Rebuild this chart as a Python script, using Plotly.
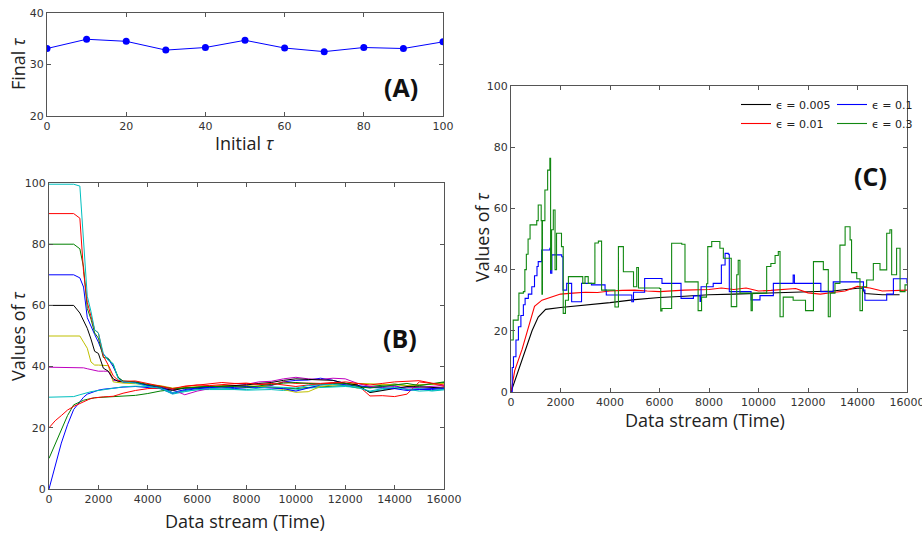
import plotly.graph_objects as go

# ---------------- Panel A data ----------------
initial_tau = [0, 10, 20, 30, 40, 50, 60, 70, 80, 90, 100]
final_tau = [33.1, 34.9, 34.5, 32.8, 33.3, 34.7, 33.2, 32.5, 33.3, 33.1, 34.4]

# ---------------- Panel B data ----------------
tB = [0, 250, 500, 750, 1000, 1250, 1400, 1550, 1700, 1850, 2000, 2200, 2400, 2600, 2800,
      3000, 3500, 4000, 4500, 5000, 5500, 6000, 6500, 7000, 7500, 8000, 8500, 9000, 9500,
      10000, 10500, 11000, 11500, 12000, 12500, 13000, 13500, 14000, 14500, 15000, 15500, 16000]
b_tau0 = [0, 8, 15, 21, 26, 28.5, 30, 31, 31.5, 32, 32.3, 32.6, 32.8, 33, 33.2,
          33.3, 33.5, 33.2, 32.8, 31.2, 32.2, 32.8, 33, 33.2, 32.8, 33, 33.4, 33.8, 35,
          35.5, 35.6, 36.2, 35.5, 34.5, 33.8, 33.2, 33.5, 33.8, 32.5, 32.6, 32.8, 33]
b_tau10 = [10, 14.5, 19, 24, 27.5, 28.6, 29, 29.3, 29.6, 29.8, 29.9, 30, 30.1, 30.2, 30.3,
           30.4, 30.6, 31.2, 32, 32.5, 33, 33, 33.5, 33.5, 33.8, 33.5, 33.5, 33.2, 33,
           32.8, 33.2, 33.5, 33.6, 33.8, 33, 33.5, 34, 34.3, 33.8, 34, 34.2, 34.8]
b_tau20 = [20, 22.3, 24, 25.8, 27, 28, 28.6, 29.1, 29.6, 29.8, 30, 30.1, 30.2, 30.3, 30.8,
           31.3, 32.2, 32.8, 33, 32.5, 33.5, 34, 34.3, 34.8, 34.5, 34.5, 34.2, 34, 35,
           34.5, 34.6, 34.5, 34.8, 34.4, 34, 30.4, 30.5, 30.2, 31, 35, 34.5, 33.5]
b_tau30 = [30, 30, 30, 30, 30.2, 30.8, 31.2, 31.5, 31.8, 32, 32.2, 32.5, 32.8, 33, 33.2,
           33.4, 33.6, 33.5, 33, 31, 31.8, 32.5, 32.5, 32.6, 32.5, 32.3, 32.5, 32.5, 32.2,
           32.4, 33, 33.2, 33.4, 33.5, 33.2, 31.8, 32.4, 33, 33.2, 32.8, 32, 32.4]
b_tau40 = [39.8, 39.8, 39.8, 39.8, 39.8, 39.8, 39.6, 39.3, 39, 38.6, 38.5, 38.5, 38.5, 35.5, 35.3,
           35.2, 35, 34, 33.5, 32.5, 30.8, 32, 32.8, 33.3, 33.8, 34.2, 35, 35.2, 36,
           36.5, 36, 35.8, 36.2, 36, 34.5, 33.5, 33.2, 33.5, 33, 33.2, 33.6, 33.8]
b_tau50 = [50, 50, 50, 50, 50, 50, 48, 46, 41.5, 40.5, 40.5, 40.5, 40.3, 35, 34.8,
           34.6, 34.4, 34.2, 33.8, 33, 33.2, 33.4, 33.5, 33.8, 33.6, 33.8, 33.5, 33.2, 32.5,
           31.6, 31.8, 33.5, 34, 34.2, 34.5, 34.4, 34.2, 34, 33.8, 34, 34.2, 34.5]
b_tau60 = [60, 60, 60, 60, 60, 57.5, 55, 52.5, 49, 45, 44.3, 39.5, 38.5, 36, 35.2,
           35, 34.8, 34, 33.2, 32.2, 33, 33.2, 33.5, 33.8, 34, 34, 34.5, 34.8, 35.5,
           36, 35.8, 35.6, 35.5, 34.5, 34, 31.5, 32.2, 33, 33.5, 33.4, 33.2, 33]
b_tau70 = [70, 70, 70, 70, 70, 69, 66, 56, 53, 50.5, 48, 44, 42.5, 40, 36.5,
           35, 34.8, 33.8, 33.5, 31.5, 32.5, 33, 33.2, 33, 33.2, 33.5, 33.2, 33, 32.8,
           32, 33, 34, 34.5, 34, 33.6, 33.2, 33, 32.8, 32.2, 32.5, 32.5, 32.8]
b_tau80 = [80, 80, 80, 80, 80, 78.5, 72.5, 59, 55.5, 51, 49.3, 43, 42.7, 40.6, 36.5,
           35.3, 35, 34.2, 33.4, 32.8, 33, 33.2, 33.6, 33.4, 33.5, 33.2, 33.8, 34.2, 34.6,
           34.8, 34.5, 34.2, 34.5, 34.6, 33.5, 33, 33.5, 34, 34.5, 33.8, 34.5, 35]
b_tau90 = [90, 90, 90, 90, 90, 88.5, 71, 61, 56, 52, 51, 43.5, 40.5, 37, 35.5,
           35.2, 35.3, 34.5, 33.6, 32.8, 33.6, 34, 33.8, 34.2, 34.4, 34.6, 34.2, 34.5, 34,
           33.5, 34, 34.2, 34.6, 35, 34.6, 34, 34.5, 35, 35.2, 35.4, 34.6, 34]
b_tau100 = [99.6, 99.6, 99.6, 99.6, 99.6, 99, 81.5, 63, 58, 52, 51, 44.3, 42, 41, 36,
            35, 34.6, 33.5, 33, 31.5, 32, 32.5, 32.8, 33, 32.6, 32.5, 33, 33.4, 33.2,
            33, 33.8, 34, 34.2, 33.8, 33.2, 32, 32.8, 33.2, 32.6, 32, 32.2, 32.6]
b_series = [b_tau0, b_tau10, b_tau20, b_tau30, b_tau40, b_tau50,
            b_tau60, b_tau70, b_tau80, b_tau90, b_tau100]
b_colors = ['#0000ff', '#008000', '#ff0000', '#00bfbf', '#bf00bf', '#bfbf00',
            '#000000', '#0000ff', '#008000', '#ff0000', '#00bfbf']

# ---------------- Panel C data ----------------
c_t_k = [0, 300, 550, 850, 1100, 1400, 2000, 3000, 4000, 5000, 6000, 7000, 8000, 9000,
         10000, 11000, 12000, 13000, 14000, 14200, 14300, 15000, 15700]
c_v_k = [0, 7, 13.5, 20, 24.5, 27, 27.6, 28.3, 29.2, 30.2, 30.9, 31.3, 31.8, 32,
         32.2, 32.4, 32.6, 33, 33.9, 34, 32.2, 31.8, 31.8]
c_t_r = [0, 150, 450, 700, 950, 1250, 1600, 2000, 2500, 3000, 3500, 4000, 4500, 5000, 5500,
         6000, 7000, 8000, 8500, 9000, 9500, 10000, 10500, 11000, 11500, 12000, 12500, 13000,
         13500, 14000, 14500, 15000, 15500, 16000]
c_v_r = [0, 7, 14, 21, 28, 30, 31, 32, 32.3, 32.6, 32.5, 33, 33.2, 33.3, 33,
         32.8, 33.3, 33.5, 34, 33.5, 34, 33, 33.2, 33.5, 33.8, 32.4, 32, 32.5,
         33, 34.5, 34, 33, 33.2, 33.3]
c_t_b = [0, 50, 100, 200, 300, 400, 500, 570, 700, 840, 950, 1050, 1100, 1240, 1570,
         1600, 1650, 2050, 2100, 2250, 2450, 2850,
         3250, 3800, 3850, 4880, 4950, 5400, 6100, 6830, 6870, 7370, 7640, 7680, 8170, 8500,
         8650, 8780, 8820, 9650, 9700, 10060, 10600, 11400, 11450, 12480, 12520, 13020, 13830,
         14240, 14300, 15180, 15450, 16000]
c_v_b = [0, 8, 11.5, 17, 21.3, 25, 28.5, 30.6, 32, 34.4, 38, 41, 42.6, 46.4, 47,
         38.8, 44.8, 44.2, 33.3, 35.5, 29.5, 35.5,
         35, 33.3, 31.7, 29.5, 32.6, 37.1, 35.5, 35.5, 30.6, 31.4, 29.6, 34.4, 35.5, 41.5,
         45.3, 45, 32.8, 32.8, 30.1, 31.5, 35.5, 38.2, 35.5, 35.5, 32.8, 36, 36,
         33.3, 30, 32, 37, 35.5]
c_t_g = [0, 90, 290, 320, 500, 560, 620, 690, 770, 1040, 1100, 1170, 1220, 1250, 1270, 1370,
         1480, 1570,
         1600, 1640, 1710, 1780, 1840, 2040, 2110, 2200, 2320, 2850, 2900, 2990, 3120, 3390,
         3530, 3660, 4070, 4200, 4340, 4540, 4880, 4950, 5080, 5150, 6000, 6050, 6100, 6490,
         6900, 7030, 7500, 7560, 7700, 7900, 7950, 8110, 8440, 8580, 8850, 8900, 9120, 9180,
         9250, 9650, 9700, 9750, 10060, 10330, 10500, 10670, 10800, 10870, 11000, 11400,
         11900, 12100, 12220, 12480, 12620, 12820, 12900, 13090, 13290, 13500, 13700, 13760,
         13970, 14100, 14200, 14370, 14640, 14910, 15180, 15310, 15380, 15580, 15720, 15920,
         16000]
c_v_g = [17, 23.5, 25, 32.3, 32.8, 40, 45, 50, 54.6, 56, 61.1, 61.1, 56, 32, 56, 66,
         72.5, 76.4,
         40, 53, 59.5, 40, 51.9, 47.5, 25.7, 30, 37.7, 37.7, 35.5, 37.7, 35.5, 48.7,
         49.3, 33.3, 33.3, 27.8, 47.5, 39.3, 39.3, 34.4, 40.7, 34, 33.8, 26.5, 27.3, 48.6,
         48.3, 36, 36, 26.6, 31, 35.4, 47.5, 49.2, 47, 43.7, 43.7, 27.9, 38.3, 43,
         32.3, 32.3, 26.6, 32.3, 32.3, 41, 42, 44.6, 45.9, 24.6, 31, 30,
         26.6, 26.6, 42.6, 42.6, 40, 24.6, 32.3, 35.5, 48, 54, 49.7, 39,
         37, 26.6, 34.4, 36.6, 42, 39.9, 51.9, 53, 38.3, 47, 32.8, 35,
         35]
c_names = ['ϵ = 0.005', 'ϵ = 0.01', 'ϵ = 0.1', 'ϵ = 0.3']

# ---------------- Figure ----------------
W, H = 922, 539
TICKFONT = dict(family='DejaVu Sans', size=11, color='#333333')
TITLEFONT = dict(family='Open Sans', size=18, color='#222222')


def px_x(p):
    return p / W


def px_y(p):
    return 1 - p / H


fig = go.Figure()

fig.add_trace(go.Scatter(x=initial_tau, y=final_tau, mode='lines+markers',
                         line=dict(color='#0000ff', width=1),
                         marker=dict(color='#0000ff', size=7),
                         xaxis='x', yaxis='y', showlegend=False))

for vals, col in zip(b_series, b_colors):
    fig.add_trace(go.Scatter(x=tB, y=vals, mode='lines', line=dict(color=col, width=1),
                             xaxis='x2', yaxis='y2', showlegend=False))

c_data = [(c_t_k, c_v_k, '#000000', 'legend', 'linear'),
          (c_t_r, c_v_r, '#ff0000', 'legend', 'linear'),
          (c_t_b, c_v_b, '#0000ff', 'legend2', 'hv'),
          (c_t_g, c_v_g, '#118811', 'legend2', 'hv')]
for (tt, vv, col, lg, shp), name in zip(c_data, c_names):
    fig.add_trace(go.Scatter(x=tt, y=vv, mode='lines', name=name,
                             line=dict(color=col, width=1.1, shape=shp),
                             xaxis='x3', yaxis='y3', legend=lg))

axis_common = dict(showline=True, linecolor='#555555', linewidth=1, mirror='ticks',
                   ticks='inside', ticklen=4, tickcolor='#555555', showgrid=False,
                   zeroline=False, tickfont=TICKFONT, automargin=False, tickformat='d',
                   ticklabeloverflow='allow')

fig.update_layout(
    width=W, height=H, margin=dict(l=0, r=0, t=0, b=0, autoexpand=False),
    paper_bgcolor='white', plot_bgcolor='white',
    xaxis=dict(domain=[px_x(47), px_x(443)], range=[0, 100], tickvals=[0, 20, 40, 60, 80, 100],
               anchor='y', **axis_common),
    yaxis=dict(domain=[px_y(116), px_y(13)], range=[20, 40], tickvals=[20, 30, 40],
               anchor='x', **axis_common),
    xaxis2=dict(domain=[px_x(49), px_x(444)], range=[0, 16000],
                tickvals=list(range(0, 16001, 2000)), anchor='y2', **axis_common),
    yaxis2=dict(domain=[px_y(489), px_y(183)], range=[0, 100],
                tickvals=[0, 20, 40, 60, 80, 100], anchor='x2', **axis_common),
    xaxis3=dict(domain=[px_x(511), px_x(907)], range=[0, 16000],
                tickvals=list(range(0, 16001, 2000)), anchor='y3', **axis_common),
    yaxis3=dict(domain=[px_y(392), px_y(86)], range=[0, 100],
                tickvals=[0, 20, 40, 60, 80, 100], anchor='x3', **axis_common),
    legend=dict(x=px_x(736), y=px_y(90), xanchor='left', yanchor='top',
                bgcolor='rgba(0,0,0,0)', font=dict(family='DejaVu Sans', size=11, color='#222'),
                tracegroupgap=0, itemwidth=30),
    legend2=dict(x=px_x(832), y=px_y(90), xanchor='left', yanchor='top',
                 bgcolor='rgba(0,0,0,0)', font=dict(family='DejaVu Sans', size=11, color='#222'),
                 tracegroupgap=0, itemwidth=30),
)

annos = [
    dict(text='Initial <i>τ</i>', x=px_x(245), y=px_y(143), font=TITLEFONT),
    dict(text='Final <i>τ</i>', x=px_x(18), y=px_y(64), font=TITLEFONT, textangle=-90),
    dict(text='Data stream (Time)', x=px_x(245), y=px_y(521), font=TITLEFONT),
    dict(text='Values of <i>τ</i>', x=px_x(18), y=px_y(336), font=TITLEFONT, textangle=-90),
    dict(text='Data stream (Time)', x=px_x(705), y=px_y(420), font=TITLEFONT),
    dict(text='Values of <i>τ</i>', x=px_x(482), y=px_y(237), font=TITLEFONT, textangle=-90),
    dict(text='<b>(A)</b>', x=px_x(401), y=px_y(87),
         font=dict(family='Open Sans', size=25, color='#111')),
    dict(text='<b>(B)</b>', x=px_x(400), y=px_y(338),
         font=dict(family='Open Sans', size=25, color='#111')),
    dict(text='<b>(C)</b>', x=px_x(870), y=px_y(176),
         font=dict(family='Open Sans', size=25, color='#111')),
]
for a in annos:
    fig.add_annotation(xref='paper', yref='paper', showarrow=False,
                       xanchor='center', yanchor='middle', **a)

fig.write_html('out.html', config={'displayModeBar': False},
               post_script="document.body.style.margin='0';document.body.style.overflow='hidden';")
